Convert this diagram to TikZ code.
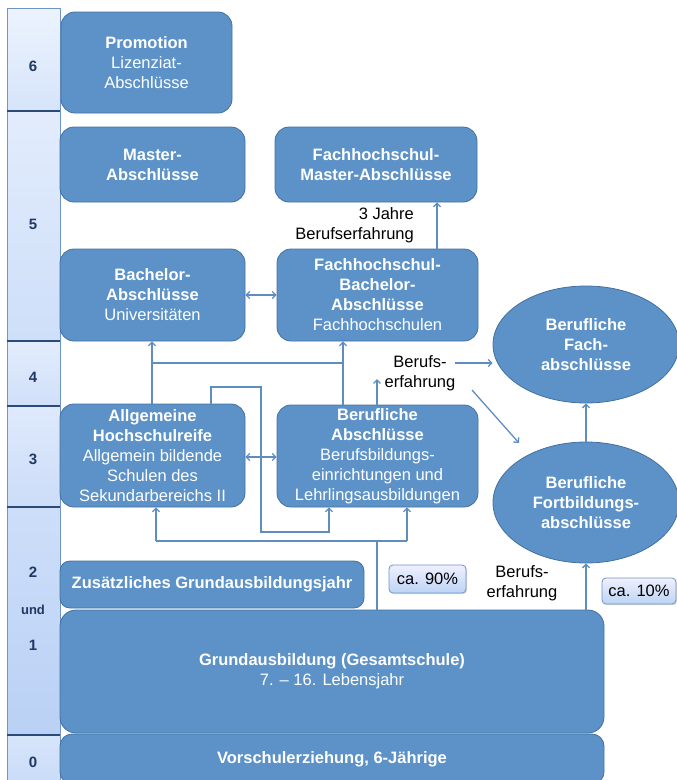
\documentclass[tikz,border=0pt]{standalone}
\usepackage{fontspec}
\setmainfont{Liberation Sans}
\usetikzlibrary{shapes.geometric,arrows.meta,shadows}
\definecolor{boxfill}{RGB}{92,146,199}
\definecolor{boxline}{RGB}{68,112,160}
\definecolor{connc}{RGB}{96,141,191}
\definecolor{labc}{RGB}{31,56,100}
\definecolor{cellline}{RGB}{110,148,200}
\definecolor{cellsep}{RGB}{45,75,120}
\begin{document}
\begin{tikzpicture}[x=1pt,y=-1pt,
  txt/.style={font=\fontsize{16.5}{20}\selectfont},
  box/.style={txt, draw=boxline, line width=0.8pt, fill=boxfill, rounded corners=14pt,
    text=white, align=center, inner sep=0pt},
  oval/.style={txt, ellipse, draw=boxline, line width=0.8pt, fill=boxfill,
    text=white, align=center, inner sep=0pt},
  lbl/.style={text=labc, font=\bfseries\fontsize{15}{18}\selectfont, inner sep=0pt},
  plain/.style={txt, text=black, align=center, inner sep=0pt},
  pct/.style={txt, draw=cellline, line width=0.8pt, rounded corners=4pt,
    top color=white!94!blue, bottom color={rgb,255:red,188;green,212;blue,244},
    drop shadow={shadow xshift=1pt, shadow yshift=-1.2pt, opacity=0.3},
    text=black, inner sep=0pt},
  line/.style={draw=connc, line width=1.3pt},
  conn/.style={line, -{Straight Barb[length=3.5pt,width=7pt]}},
  conn2/.style={line, {Straight Barb[length=3.5pt,width=7pt]}-{Straight Barb[length=3.5pt,width=7pt]}}
]
\useasboundingbox (0,0) rectangle (677,780);

% ---- level column ----
\shade[top color={rgb,255:red,236;green,243;blue,253}, bottom color={rgb,255:red,214;green,228;blue,250}] (7,8) rectangle (60,111);
\shade[top color={rgb,255:red,226;green,236;blue,252}, bottom color={rgb,255:red,206;green,223;blue,249}] (7,111) rectangle (60,341);
\shade[top color={rgb,255:red,226;green,236;blue,252}, bottom color={rgb,255:red,208;green,224;blue,249}] (7,341) rectangle (60,406);
\shade[top color={rgb,255:red,222;green,233;blue,252}, bottom color={rgb,255:red,204;green,221;blue,248}] (7,406) rectangle (60,507);
\shade[top color={rgb,255:red,205;green,222;blue,249}, bottom color={rgb,255:red,186;green,209;blue,245}] (7,507) rectangle (60,735);
\shade[top color={rgb,255:red,215;green,229;blue,250}, bottom color={rgb,255:red,200;green,218;blue,248}] (7,735) rectangle (60,790);
\draw[cellline, line width=0.8pt] (7,790) -- (7,8) -- (60,8) -- (60,790);
\foreach \yy in {111,341,406,507,735} \draw[cellsep, line width=1.2pt] (7,\yy) -- (60,\yy);

\node[lbl] (l6) at (33,66) {6};
\node[lbl] (l5) at (33,224) {5};
\node[lbl] (l4) at (33,377) {4};
\node[lbl] (l3) at (33,459) {3};
\node[lbl] (l2) at (33,572) {2};
\node[lbl, font=\bfseries\fontsize{13}{16}\selectfont] (lund) at (33,610) {und};
\node[lbl] (l1) at (33,645) {1};
\node[lbl] (l0) at (33,762) {0};

% ---- boxes ----
\node[box, minimum width=171, minimum height=101] (prom) at (146.5,62.5)
  {\textbf{Promotion}\\Lizenziat-\\Abschlüsse};
\node[box, minimum width=185, minimum height=75] (mast) at (152.5,164.5)
  {\textbf{Master-}\\\textbf{Abschlüsse}};
\node[box, minimum width=202, minimum height=75] (fhmast) at (376,164.5)
  {\textbf{Fachhochschul-}\\\textbf{Master-Abschlüsse}};
\node[box, minimum width=185, minimum height=92] (bach) at (152.5,295)
  {\textbf{Bachelor-}\\\textbf{Abschlüsse}\\Universitäten};
\node[box, minimum width=201, minimum height=92] (fhbach) at (377.5,295)
  {\textbf{Fachhochschul-}\\\textbf{Bachelor-}\\\textbf{Abschlüsse}\\Fachhochschulen};
\node[box, minimum width=185, minimum height=103] (allg) at (152.5,455.5)
  {\textbf{Allgemeine}\\\textbf{Hochschulreife}\\Allgemein bildende\\Schulen des\\Sekundarbereichs II};
\node[box, minimum width=201, minimum height=102] (beruf) at (377.5,456)
  {\textbf{Berufliche}\\\textbf{Abschlüsse}\\Berufsbildungs-\\einrichtungen und\\Lehrlingsausbildungen};
\node[oval, minimum width=186, minimum height=117] (fach) at (586,344.5)
  {\textbf{Berufliche}\\\textbf{Fach-}\\\textbf{abschlüsse}};
\node[oval, minimum width=186, minimum height=121] (fortb) at (586,502.5)
  {\textbf{Berufliche}\\\textbf{Fortbildungs-}\\\textbf{abschlüsse}};
\node[box, rounded corners=10pt, minimum width=304, minimum height=47] (zus) at (212,584.5)
  {\textbf{Zusätzliches Grundausbildungsjahr}};
\node[box, rounded corners=16pt, minimum width=544, minimum height=123] (grund) at (332,671.5)
  {\textbf{Grundausbildung (Gesamtschule)}\\7. – 16. Lebensjahr};
\node[box, rounded corners=12pt, minimum width=544, minimum height=50] (vor) at (332,759)
  {\textbf{Vorschulerziehung, 6-Jährige}};

\node[pct, minimum width=77, minimum height=28] (ca90) at (427.5,579) {ca. 90\%};
\node[pct, minimum width=74, minimum height=26] (ca10) at (639,591) {ca. 10\%};

% ---- plain texts ----
\node[plain, align=right, anchor=east] (jahre) at (414,225.5) {3 Jahre\\Berufserfahrung};
\node[plain] (bex1) at (420,373) {Berufs-\\erfahrung};
\node[plain] (bex2) at (522,583.5) {Berufs-\\erfahrung};

% ---- connectors ----
\draw[conn] (fhbach.north -| 437,0) -- (fhmast.south -| 437,0);
\draw[conn2] (bach.east |- 0,295) -- (fhbach.west |- 0,295);
\draw[conn2] (allg.east |- 0,457) -- (beruf.west |- 0,457);

\coordinate (j1) at (152,363);
\coordinate (j2) at (343,363);
\draw[conn] (allg.north -| 152,0) -- (bach.south -| 152,0);
\draw[conn] (beruf.north -| 343,0) -- (fhbach.south -| 343,0);
\draw[line] (j1) -- (j2);

\coordinate (k1) at (211,387);
\coordinate (k2) at (261,387);
\coordinate (k3) at (261,532);
\coordinate (k4) at (329,532);
\draw[conn] (allg.north -| 211,0) -- (k1) -- (k2) -- (k3) -- (k4) -- (beruf.south -| 329,0);

\coordinate (g1) at (377,541);
\coordinate (g2) at (156,541);
\coordinate (g3) at (407,541);
\draw[line] (grund.north -| 377,0) -- (g1);
\draw[line] (g2) -- (g3);
\draw[conn] (g2) -- (allg.south -| 156,0);
\draw[conn] (g3) -- (beruf.south -| 407,0);

\coordinate (b1) at (377,379);
\draw[conn] (beruf.north -| 377,0) -- (b1);
\coordinate (b2) at (455,363);
\draw[conn] (b2) -- (fach.west |- 0,363);
\coordinate (b3) at (472,390);
\coordinate (b4) at (519,443);
\draw[conn] (b3) -- (b4);

\draw[conn] (fortb.north) -- (fach.south);
\draw[conn] (grund.north -| 586,0) -- (fortb.south);
\end{tikzpicture}
\end{document}
